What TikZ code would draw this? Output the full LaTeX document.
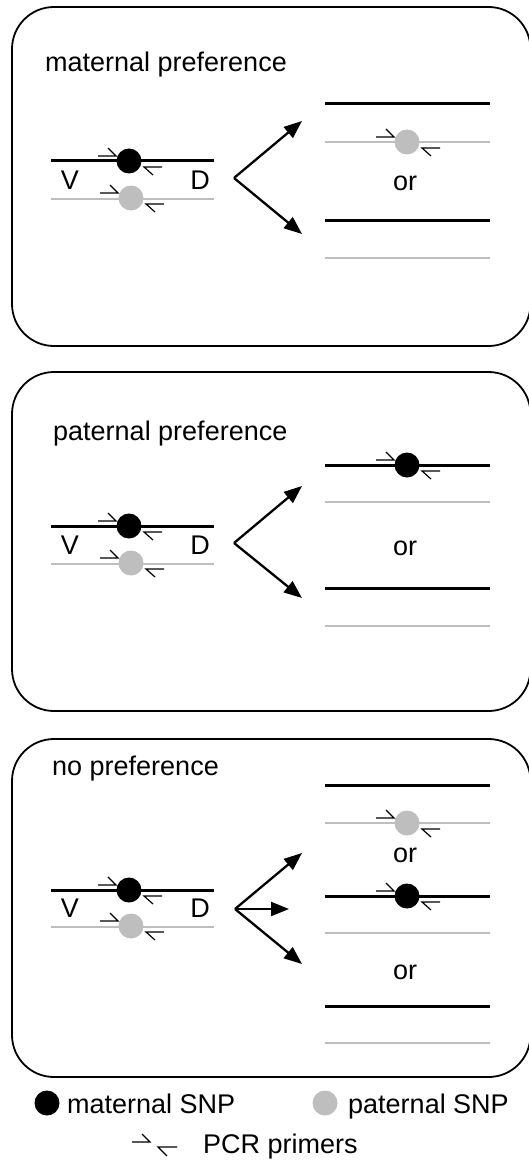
\documentclass[tikz,border=0pt]{standalone}
\usepackage{fontspec}
\setmainfont{Liberation Sans}
\usetikzlibrary{calc,arrows.meta}
\definecolor{snpgray}{RGB}{190,190,190}
\tikzset{
  panel/.style={draw=black, line width=1.8pt, rounded corners=42pt},
  matline/.style={line width=3pt, black},
  patline/.style={line width=2.4pt, snpgray},
  matdot/.style={circle, fill=black, minimum size=25pt, inner sep=0pt},
  patdot/.style={circle, fill=snpgray, minimum size=25pt, inner sep=0pt},
  primer/.style={line width=1.2pt, black},
  lbl/.style={font=\fontsize{27}{32}\selectfont, inner sep=0pt},
  orlbl/.style={font=\fontsize{27}{32}\selectfont, inner sep=0pt},
  choice/.style={line width=2.3pt, -{Triangle[length=18pt,width=14pt]}},
}
\newcommand\mkprimers[1]{%
  \draw[primer] ($(#1)+(-31,-5)$) -- ($(#1)+(-13,-5)$) -- ($(#1)+(-21,-13)$);
  \draw[primer] ($(#1)+(33,6)$) -- ($(#1)+(15,6)$) -- ($(#1)+(24,14)$);
}
\begin{document}
\begin{tikzpicture}[x=1pt,y=-1pt]
\useasboundingbox (0,0) rectangle (529,1169);

% ---------- panel 1 ----------
\draw[panel] (12,7) rectangle (530.5,346);
\node[lbl, anchor=base west] (t1) at (45,72) {maternal preference};
\coordinate (a1L) at (51,161); \coordinate (a1R) at (214,161);
\coordinate (b1L) at (51,199); \coordinate (b1R) at (214,199);
\draw[matline] (a1L) -- (a1R);
\draw[patline] (b1L) -- (b1R);
\node[matdot] (m1) at (129,161) {};
\node[patdot] (p1) at (131,198) {};
\mkprimers{m1}\mkprimers{p1}
\node[lbl] (v1) at (70,180) {V};
\node[lbl] (d1) at (200,180) {D};
\coordinate (x1) at (234,178);
\coordinate (u1) at (302,121);
\coordinate (l1) at (302,234);
\draw[choice] (x1) -- (u1);
\draw[choice] (x1) -- (l1);
\coordinate (r1aL) at (325,104); \coordinate (r1aR) at (490,104);
\coordinate (r1bL) at (325,142); \coordinate (r1bR) at (490,142);
\coordinate (r1cL) at (325,220); \coordinate (r1cR) at (490,220);
\coordinate (r1dL) at (325,258); \coordinate (r1dR) at (490,258);
\draw[matline] (r1aL) -- (r1aR);
\draw[patline] (r1bL) -- (r1bR);
\draw[matline] (r1cL) -- (r1cR);
\draw[patline] (r1dL) -- (r1dR);
\node[patdot] (rp1) at (407,142) {};
\mkprimers{rp1}
\node[orlbl] (or1) at (405,183) {or};

% ---------- panel 2 ----------
\draw[panel] (12,372) rectangle (530.5,711);
\node[lbl, anchor=base west] (t2) at (53,440) {paternal preference};
\coordinate (a2L) at (51,526); \coordinate (a2R) at (214,526);
\coordinate (b2L) at (51,564); \coordinate (b2R) at (214,564);
\draw[matline] (a2L) -- (a2R);
\draw[patline] (b2L) -- (b2R);
\node[matdot] (m2) at (129,526) {};
\node[patdot] (p2) at (131,563) {};
\mkprimers{m2}\mkprimers{p2}
\node[lbl] (v2) at (70,545) {V};
\node[lbl] (d2) at (200,545) {D};
\coordinate (x2) at (234,543);
\coordinate (u2) at (302,486);
\coordinate (l2) at (302,598);
\draw[choice] (x2) -- (u2);
\draw[choice] (x2) -- (l2);
\coordinate (r2aL) at (325,465); \coordinate (r2aR) at (490,465);
\coordinate (r2bL) at (325,502); \coordinate (r2bR) at (490,502);
\coordinate (r2cL) at (325,588); \coordinate (r2cR) at (490,588);
\coordinate (r2dL) at (325,626); \coordinate (r2dR) at (490,626);
\draw[matline] (r2aL) -- (r2aR);
\draw[patline] (r2bL) -- (r2bR);
\draw[matline] (r2cL) -- (r2cR);
\draw[patline] (r2dL) -- (r2dR);
\node[matdot] (rm2) at (407,465) {};
\mkprimers{rm2}
\node[orlbl] (or2) at (405,548) {or};

% ---------- panel 3 ----------
\draw[panel] (12,739) rectangle (530.5,1077);
\node[lbl, anchor=base west] (t3) at (52,775) {no preference};
\coordinate (a3L) at (51,890); \coordinate (a3R) at (214,890);
\coordinate (b3L) at (51,927); \coordinate (b3R) at (214,927);
\draw[matline] (a3L) -- (a3R);
\draw[patline] (b3L) -- (b3R);
\node[matdot] (m3) at (129,890) {};
\node[patdot] (p3) at (131,926) {};
\mkprimers{m3}\mkprimers{p3}
\node[lbl] (v3) at (70,908) {V};
\node[lbl] (d3) at (200,908) {D};
\coordinate (x3) at (235,909);
\coordinate (u3) at (302,853);
\coordinate (c3) at (289,909);
\coordinate (l3) at (302,964);
\draw[choice] (x3) -- (u3);
\draw[choice] (x3) -- (c3);
\draw[choice] (x3) -- (l3);
\coordinate (r3aL) at (325,785); \coordinate (r3aR) at (490,785);
\coordinate (r3bL) at (325,823); \coordinate (r3bR) at (490,823);
\coordinate (r3cL) at (325,896); \coordinate (r3cR) at (490,896);
\coordinate (r3dL) at (325,933); \coordinate (r3dR) at (490,933);
\coordinate (r3eL) at (325,1006); \coordinate (r3eR) at (490,1006);
\coordinate (r3fL) at (325,1043); \coordinate (r3fR) at (490,1043);
\draw[matline] (r3aL) -- (r3aR);
\draw[patline] (r3bL) -- (r3bR);
\draw[matline] (r3cL) -- (r3cR);
\draw[patline] (r3dL) -- (r3dR);
\draw[matline] (r3eL) -- (r3eR);
\draw[patline] (r3fL) -- (r3fR);
\node[patdot] (rp3) at (407,823) {};
\mkprimers{rp3}
\node[matdot] (rm3) at (407,896) {};
\mkprimers{rm3}
\node[orlbl] (or3a) at (405,855) {or};
\node[orlbl] (or3b) at (405,972) {or};

% ---------- legend ----------
\node[matdot] (lm) at (47,1103) {};
\node[lbl, anchor=base west] (lmt) at (67,1113) {maternal SNP};
\node[patdot] (lp) at (325,1103) {};
\node[lbl, anchor=base west] (lpt) at (348,1113) {paternal SNP};
\coordinate (pa1) at (132,1142); \coordinate (pa2) at (150,1142); \coordinate (pa3) at (142,1134);
\coordinate (pb1) at (177,1147); \coordinate (pb2) at (158,1147); \coordinate (pb3) at (167,1156);
\draw[primer] (pa1) -- (pa2) -- (pa3);
\draw[primer] (pb1) -- (pb2) -- (pb3);
\node[lbl, anchor=base west] (pcr) at (203,1153) {PCR primers};
\end{tikzpicture}
\end{document}
